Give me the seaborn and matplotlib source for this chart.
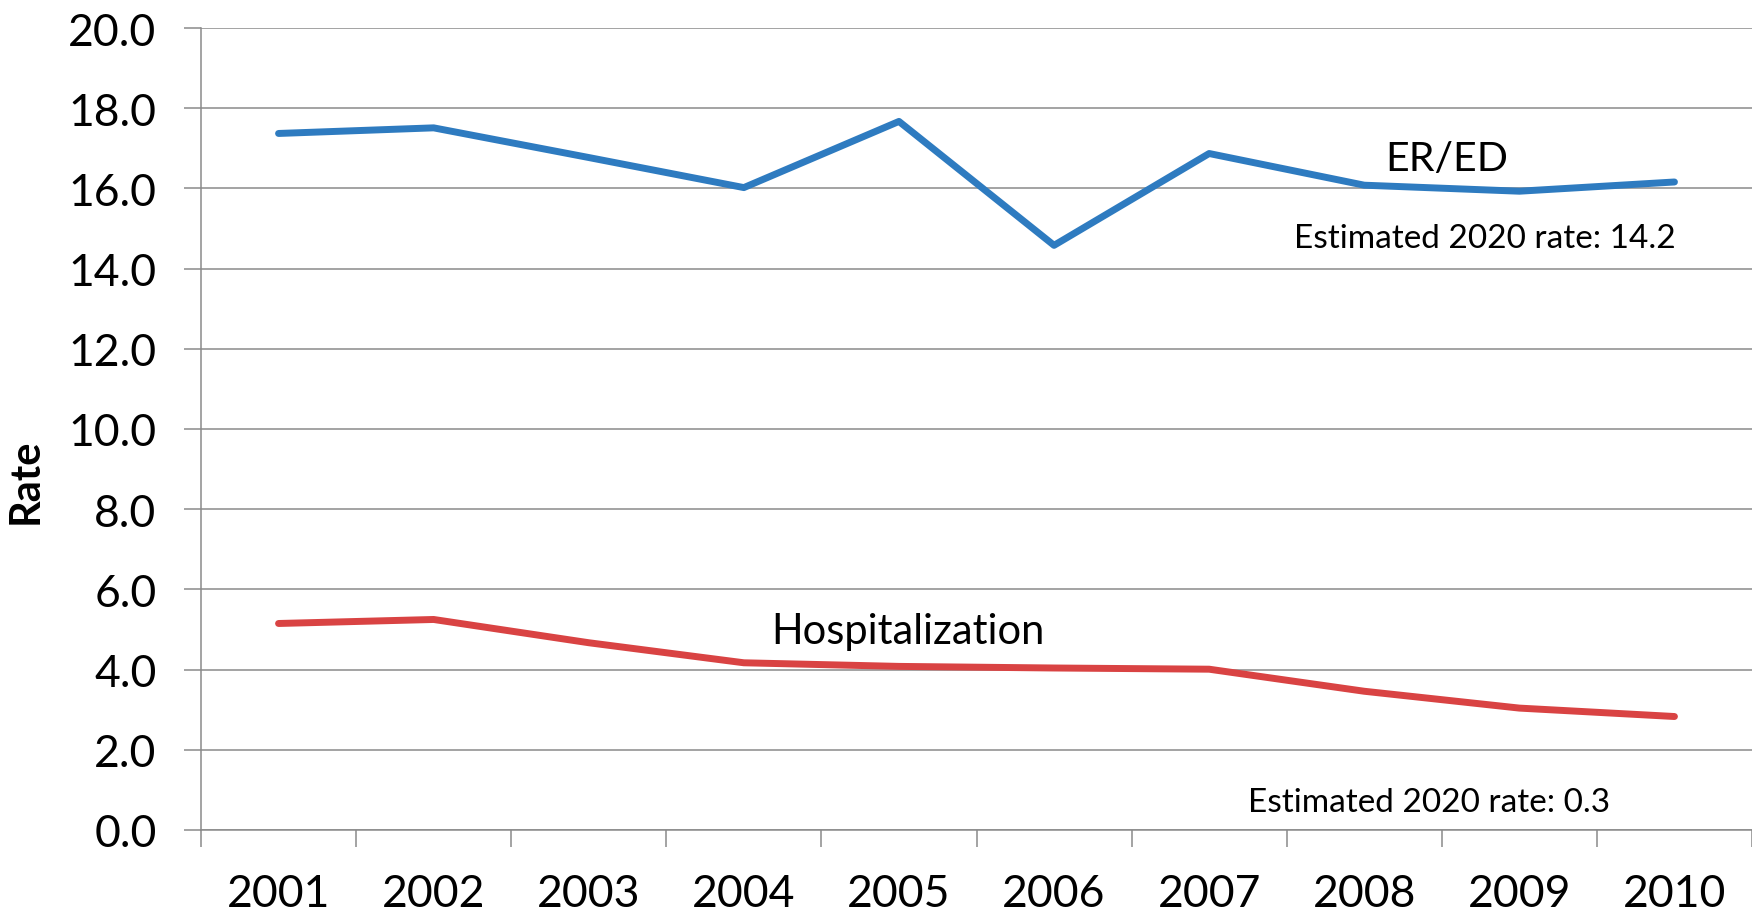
import pandas as pd
import matplotlib
matplotlib.use("Agg")
import matplotlib.pyplot as plt
import seaborn as sns
from matplotlib.ticker import FixedLocator, FuncFormatter

# values
years = [2001, 2002, 2003, 2004, 2005, 2006, 2007, 2008, 2009, 2010]
er_ed = [17.37, 17.51, 16.77, 16.02, 17.67, 14.58, 16.87, 16.08, 15.93, 16.16]
hospitalization = [5.15, 5.25, 4.67, 4.17, 4.08, 4.04, 4.01, 3.46, 3.04, 2.83]
y_ticks = [0, 2, 4, 6, 8, 10, 12, 14, 16, 18, 20]

BLUE = "#2E7BC0"
RED = "#D94343"
GRID = "#8A8A8A"

sns.set_theme(style="white")
plt.rcParams["font.family"] = ["Lato", "DejaVu Sans"]

df = pd.DataFrame({"year": years, "ER/ED": er_ed, "Hospitalization": hospitalization})

fig = plt.figure(figsize=(17.52, 9.12), dpi=100)
ax = fig.add_axes([201 / 1752, 1 - 831 / 912, 1 - 201 / 1752, (831 - 29) / 912])

sns.lineplot(data=df, x="year", y="ER/ED", color=BLUE, linewidth=5, ax=ax)
sns.lineplot(data=df, x="year", y="Hospitalization", color=RED, linewidth=5, ax=ax)

ax.set_xlim(years[0] - 0.5, years[-1] + 0.5)
ax.set_ylim(0, 20)

# category labels in the middle, tick marks on the boundaries (Excel style)
ax.xaxis.set_major_locator(FixedLocator(years))
ax.xaxis.set_minor_locator(FixedLocator([y - 0.5 for y in years] + [years[-1] + 0.5]))
ax.set_xticklabels([str(y) for y in years])
ax.tick_params(axis="x", which="major", length=0, pad=31, labelsize=32, colors="black")
ax.tick_params(axis="x", which="minor", length=12, width=1.1, color=GRID, direction="out", bottom=True)

ax.yaxis.set_major_locator(FixedLocator(y_ticks))
ax.yaxis.set_major_formatter(FuncFormatter(lambda v, p: f"{v:.1f}"))
ax.tick_params(axis="y", length=12, width=1.1, color=GRID, direction="out", pad=20,
               labelsize=32, left=True, labelcolor="black")

ax.grid(axis="y", color=GRID, linewidth=1.1)
ax.grid(axis="x", visible=False)
for side in ["top", "right"]:
    ax.spines[side].set_visible(False)
for side in ["left", "bottom"]:
    ax.spines[side].set_color(GRID)
    ax.spines[side].set_linewidth(1.1)

ax.set_xlabel("")
ax.set_ylabel("Rate", fontsize=30, fontweight="bold", color="black")
ax.yaxis.set_label_coords(-0.1010, 0.436)

# series labels and estimates
ax.text(2008.53, 16.46, "ER/ED", fontsize=29.5, ha="center", va="baseline", color="black")
ax.text(2008.78, 14.53, "Estimated 2020 rate: 14.2", fontsize=24, ha="center", va="baseline", color="black")
ax.text(2005.06, 4.67, "Hospitalization", fontsize=30, ha="center", va="baseline", color="black")
ax.text(2008.42, 0.48, "Estimated 2020 rate: 0.3", fontsize=24, ha="center", va="baseline", color="black")

fig.savefig("out.png", dpi=100, facecolor="white")
plt.close(fig)
